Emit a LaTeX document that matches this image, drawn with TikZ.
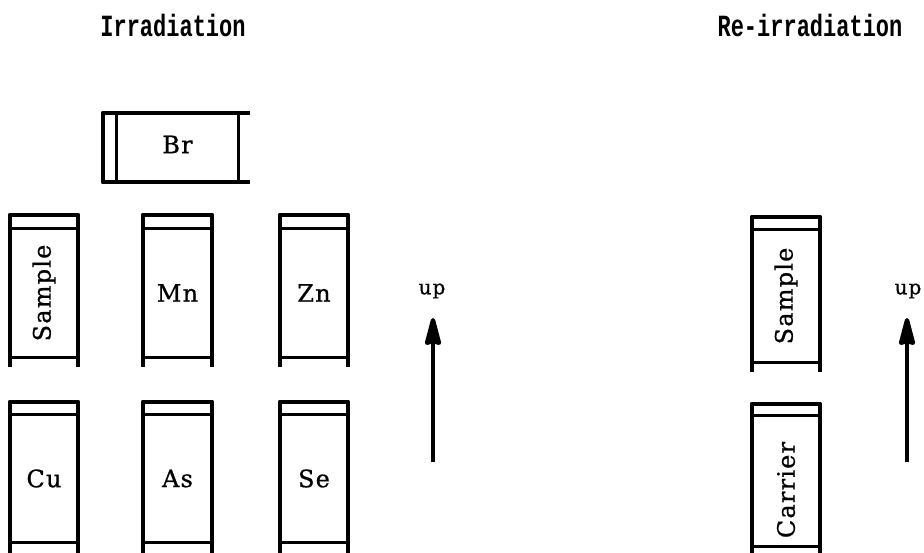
\documentclass[tikz,border=0pt]{standalone}
\usepackage{fontspec}
\usepackage{graphicx}
\usetikzlibrary{arrows.meta}
\newfontfamily\labfont[LetterSpace=5,FakeBold=0.8]{DejaVu Serif}
\newfontfamily\titlefont{Liberation Mono}
% #1 name, #2 left, #3 right, #4 top, #5 cap line, #6 bottom line, #7 leg end, #8 label
\newcommand\vcap[8]{%
  \node[body, minimum width={#3-#2}, minimum height={#6-#5}] (#1) at ({(#2+#3)/2},{(#5+#6)/2}) {#8};
  \draw[frame] ([yshift={-(#7-#6)*1pt}]#1.south west) -- ([yshift={(#5-#4)*1pt}]#1.north west)
     -- ([yshift={(#5-#4)*1pt}]#1.north east) -- ([yshift={-(#7-#6)*1pt}]#1.south east);
  \draw[inner] (#1.north west) -- (#1.north east);
  \draw[inner] (#1.south west) -- (#1.south east);
}
\begin{document}
\begin{tikzpicture}[x=1pt,y=-1pt,
  frame/.style={line width=4.3pt, line join=round},
  inner/.style={line width=3pt},
  body/.style={rectangle, inner sep=0pt, font=\labfont\fontsize{24}{24}\selectfont},
  title/.style={font=\titlefont\bfseries\fontsize{22}{22}\selectfont},
  uplab/.style={font=\labfont\fontsize{20}{20}\selectfont},
  uparrow/.style={line width=4.3pt, -{Stealth[length=34pt,width=17pt,inset=2pt,round]}}
]
\useasboundingbox (0,0) rectangle (924,553);

% titles
\node[title] (t1) at (173,25) {\scalebox{1}[1.4]{Irradiation}};
\node[title] (t2) at (810,25) {\scalebox{1}[1.4]{Re-irradiation}};

% Br capsule (horizontal)
\node[body, minimum width=121, minimum height=69] (br) at (177.5,147.5) {\raisebox{6pt}{Br}};
\draw[frame] ([xshift=12pt]br.north east) -- ([xshift=-14pt]br.north west)
   -- ([xshift=-14pt]br.south west) -- ([xshift=12pt]br.south east);
\draw[inner] (br.north west) -- (br.south west);
\draw[inner] (br.north east) -- (br.south east);

% row 1
\vcap{s1}{10}{78}{215}{229}{357}{367}{\rotatebox{90}{Sample}}
\vcap{mn}{143}{212}{215}{229}{357}{367}{\raisebox{-6pt}{Mn}}
\vcap{zn}{280}{348}{215}{229}{357}{367}{\raisebox{-6pt}{Zn}}
% row 2
\vcap{cu}{10}{78}{402}{415}{542}{553}{\raisebox{-4pt}{Cu}}
\vcap{as}{143}{212}{402}{415}{542}{553}{\raisebox{-4pt}{As}}
\vcap{se}{280}{348}{402}{415}{542}{553}{\raisebox{-4pt}{Se}}
% re-irradiation
\vcap{s2}{752}{820}{217}{230}{362}{372}{\rotatebox{90}{Sample}}
\vcap{car}{752}{820}{404}{416}{546}{553}{\rotatebox{90}{Carrier\hspace{18pt}}}

% arrows
\coordinate (a1s) at (433,462);
\coordinate (a1e) at (433,318);
\draw[uparrow] (a1s) -- (a1e);
\node[uplab] (u1) at (432,291) {up};
\coordinate (a2s) at (907,462);
\coordinate (a2e) at (907,318);
\draw[uparrow] (a2s) -- (a2e);
\node[uplab] (u2) at (908,291) {up};
\end{tikzpicture}
\end{document}
